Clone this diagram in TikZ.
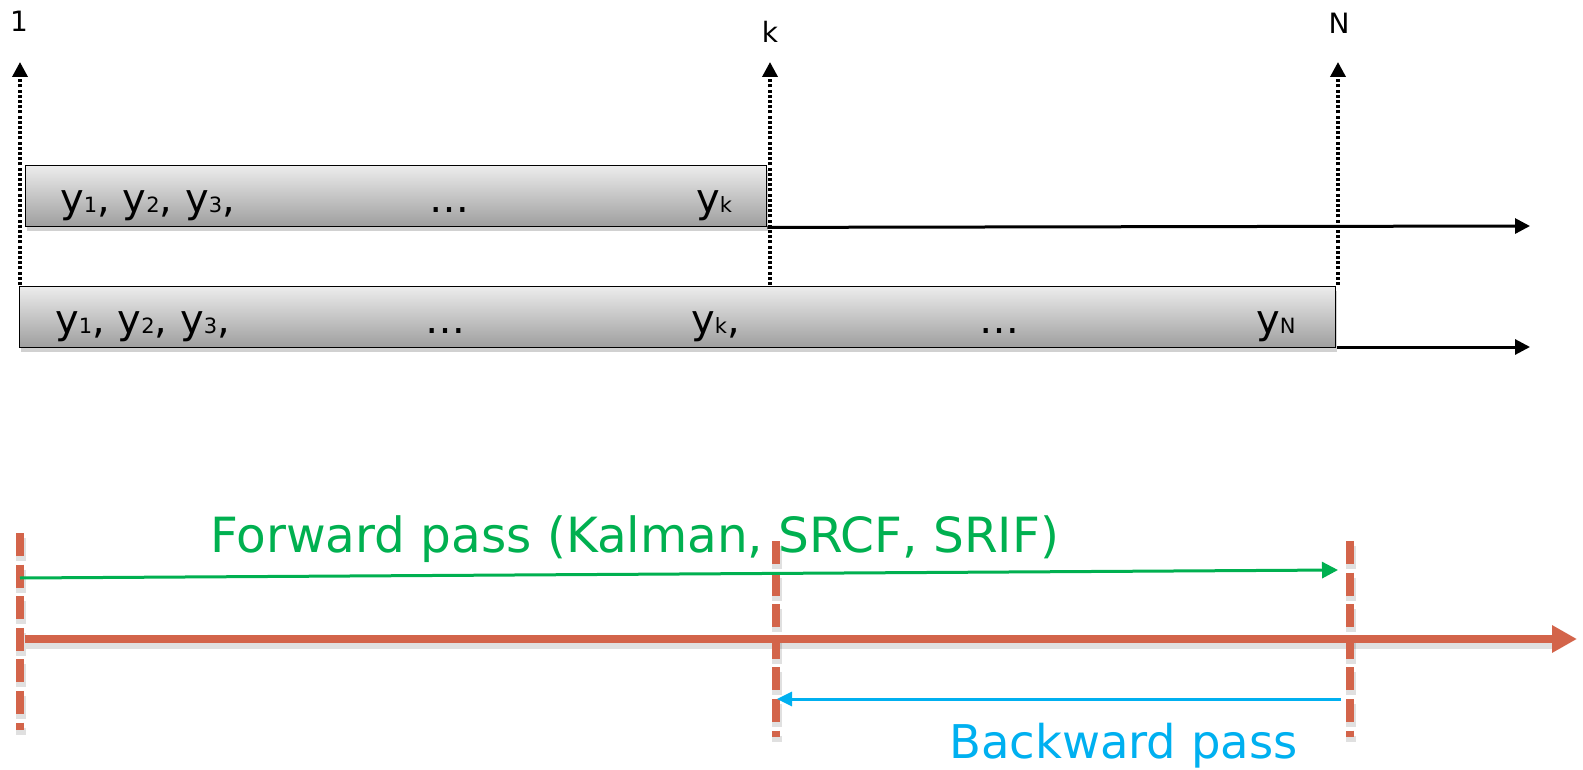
\documentclass[tikz,border=0pt]{standalone}
\usepackage{fontspec}
\setmainfont{DejaVu Sans}
\usetikzlibrary{arrows.meta,shadows,calc}
\definecolor{tred}{RGB}{211,100,74}
\definecolor{tgreen}{RGB}{0,176,80}
\definecolor{tblue}{RGB}{0,176,240}
\definecolor{boxtop}{RGB}{236,236,236}
\definecolor{boxbot}{RGB}{158,158,158}
\newcommand{\sbs}[1]{{\fontsize{21}{24}\selectfont #1}}
\newcommand{\ys}[1]{y\sbs{#1}}
\tikzset{
  seqbox/.style={draw=black, line width=1.4pt, top color=boxtop, bottom color=boxbot,
    inner sep=0pt, anchor=north west,
    drop shadow={shadow xshift=1pt, shadow yshift=-4pt, opacity=0.18, fill=black}},
  boxtxt/.style={inner sep=0pt, anchor=base west, font=\fontsize{40}{48}\selectfont},
  idxlbl/.style={inner sep=0pt, anchor=base, font=\fontsize{28}{32}\selectfont},
  dotarrow/.style={line width=3.5pt, dash pattern=on 3pt off 2.2pt, -{Triangle[width=15pt,length=15pt]}},
  blackarrow/.style={line width=3pt, -{Triangle[width=15pt,length=15pt]}},
  reddash/.style={tred, line width=8pt, dash pattern=on 23pt off 8.6pt},
  redshadow/.style={black, opacity=0.12, line width=10pt},
  redarrow/.style={tred, line width=8pt, -{Triangle[width=26pt,length=25pt]}},
  fwdarrow/.style={tgreen, line width=3pt, -{Triangle[width=16pt,length=16pt]}},
  bwdarrow/.style={tblue, line width=3pt, -{Triangle[width=14pt,length=15pt]}},
  fwdtxt/.style={tgreen, inner sep=0pt, anchor=base west, font=\fontsize{48.5}{56}\selectfont},
  bwdtxt/.style={tblue, inner sep=0pt, anchor=base west, font=\fontsize{46.5}{56}\selectfont},
}
\begin{document}
\begin{tikzpicture}[x=1pt,y=-1pt]
\useasboundingbox[fill=white] (0,0) rectangle (1583,770);

% boxes
\node[seqbox, minimum width=741pt, minimum height=61pt] (box1) at (25,165) {};
\node[seqbox, minimum width=1316pt, minimum height=61pt] (box2) at (19,286) {};

% box texts
\node[boxtxt] (t11) at (60,213) {\ys{1}, \ys{2}, \ys{3},};
\node[boxtxt] (t12) at (429,213) {…};
\node[boxtxt] (t13) at (696,213) {\ys{k}};
\node[boxtxt] (t21) at (55,334) {\ys{1}, \ys{2}, \ys{3},};
\node[boxtxt] (t22) at (425,334) {…};
\node[boxtxt] (t23) at (691,334) {\ys{k},};
\node[boxtxt] (t24) at (979,334) {…};
\node[boxtxt] (t25) at (1256,334) {\ys{N}};

% index labels
\node[idxlbl] (l1) at (19,32) {1};
\node[idxlbl] (lk) at (770,43) {k};
\node[idxlbl] (lN) at (1339,34) {N};

% dotted arrows
\coordinate (d1s) at (20,285);
\coordinate (d1e) at (20,62);
\coordinate (dks) at (770,285);
\coordinate (dke) at (770,62);
\coordinate (dNs) at (1338,285);
\coordinate (dNe) at (1338,62);
\draw[dotarrow] (d1s) -- (d1e);
\draw[dotarrow] (dks) -- (dke);
\draw[dotarrow] (dNs) -- (dNe);

% black horizontal arrows
\coordinate (h1e) at (1530,226);
\coordinate (h2s) at (1337,347);
\coordinate (h2e) at (1530,347);
\draw[blackarrow] (box1.south east) -- (h1e);
\draw[blackarrow] (h2s) -- (h2e);

% timeline
\coordinate (r1t) at (20,533);
\coordinate (r1b) at (20,730);
\coordinate (r2t) at (776,541);
\coordinate (r2b) at (776,737);
\coordinate (r3t) at (1350,541);
\coordinate (r3b) at (1350,737);
\coordinate (tls) at (25,639);
\coordinate (tle) at (1577,639);
\draw[redshadow] ($(tls)+(1,5)$) -- ($(tle)+(-22,5)$);
\draw[redshadow, dash pattern=on 23pt off 8.6pt] ($(r1t)+(1,5)$) -- ($(r1b)+(1,5)$);
\draw[redshadow, dash pattern=on 23pt off 8.6pt] ($(r2t)+(1,5)$) -- ($(r2b)+(1,5)$);
\draw[redshadow, dash pattern=on 23pt off 8.6pt] ($(r3t)+(1,5)$) -- ($(r3b)+(1,5)$);
\draw[redarrow] (tls) -- (tle);
\draw[reddash] (r1t) -- (r1b);
\draw[reddash] (r2t) -- (r2b);
\draw[reddash] (r3t) -- (r3b);

% passes
\coordinate (fs) at (20,578);
\coordinate (fe) at (1338,570);
\draw[fwdarrow] (fs) -- (fe);
\coordinate (bs) at (1341,699);
\coordinate (be) at (777,699);
\draw[bwdarrow] (bs) -- (be);

\node[fwdtxt] (ftxt) at (210,552) {Forward pass (Kalman, SRCF, SRIF)};
\node[bwdtxt] (btxt) at (949,758) {Backward pass};
\end{tikzpicture}
\end{document}
